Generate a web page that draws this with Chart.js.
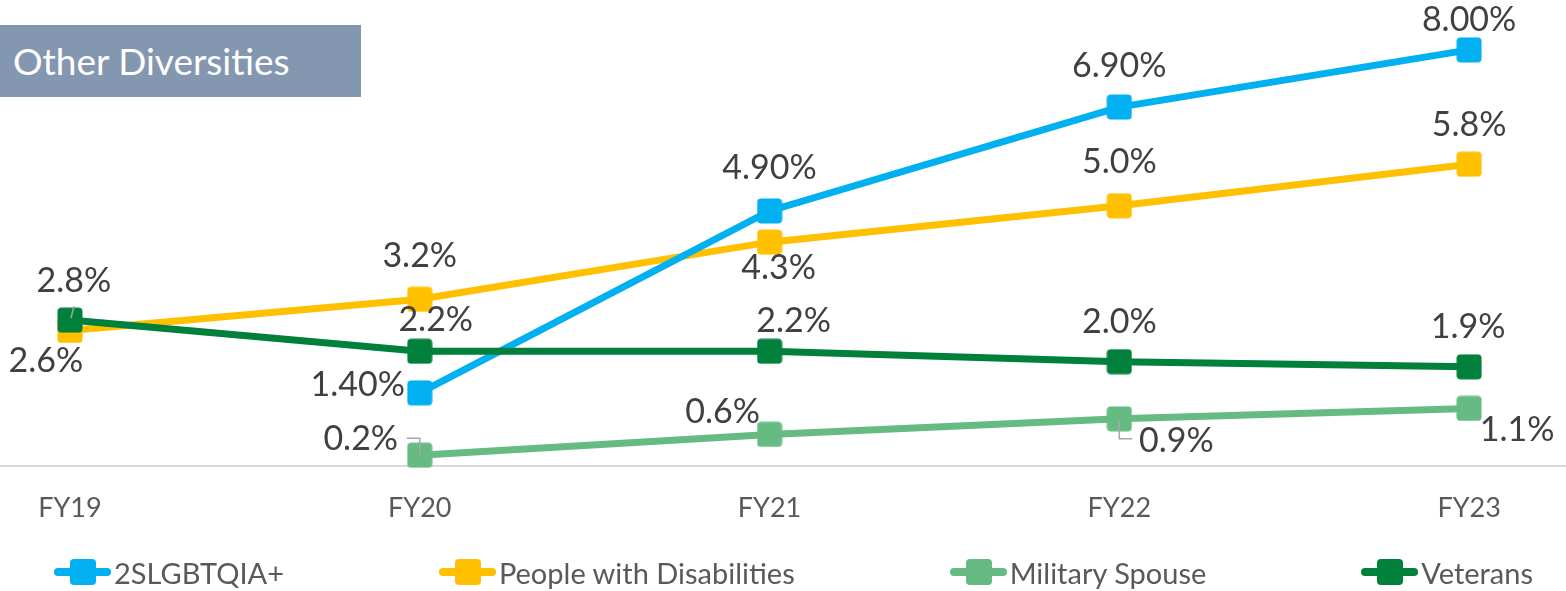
<!DOCTYPE html>
<html lang="en">
<head>
<meta charset="UTF-8">
<title>Other Diversities</title>
<script src="https://cdn.jsdelivr.net/npm/chart.js@4.4.0/dist/chart.umd.min.js"></script>
<style>
  html, body { margin: 0; padding: 0; background: #fff; }
  .wrap { position: relative; width: 1566px; height: 591px; font-family: Lato, sans-serif; overflow: hidden; }
  #chart { position: absolute; left: 0; top: 0; }
  .title { position: absolute; left: 0; top: 25px; width: 361px; height: 72px; background: #8497B0; color: #fff;
           font-size: 37px; line-height: 72px; padding-left: 13px; box-sizing: border-box; }
  .legend { position: absolute; left: 54px; right: 33px; top: 555px; height: 34px; display: flex;
            justify-content: space-between; align-items: center; }
  .item { display: flex; align-items: center; font-size: 29px; color: #595959; }
  .sym { position: relative; width: 57px; height: 26px; margin-right: 3px; }
  .sym::before { content: ''; position: absolute; left: 0; right: 0; top: 9px; height: 8px; border-radius: 4px; background: var(--c); }
  .sym::after { content: ''; position: absolute; left: 16px; top: 0; width: 26px; height: 26px; border-radius: 4px; background: var(--c); }
</style>
</head>
<body>
<div class="wrap">
  <canvas id="chart" width="1566" height="591"></canvas>
  <div class="title">Other Diversities</div>
  <div class="legend" id="legend"></div>
</div>

<script>
const years = ['FY19', 'FY20', 'FY21', 'FY22', 'FY23'];
const lgbtq = [null, 1.4, 4.9, 6.9, 8.0];
const disabilities = [2.6, 3.2, 4.3, 5.0, 5.8];
const militarySpouse = [null, 0.2, 0.6, 0.9, 1.1];
const veterans = [2.8, 2.2, 2.2, 2.0, 1.9];

const seriesNames = ['2SLGBTQIA+', 'People with Disabilities', 'Military Spouse', 'Veterans'];
const seriesValues = [lgbtq, disabilities, militarySpouse, veterans];
const seriesColors = ['#00B0F0', '#FFC000', '#66BB83', '#00803A'];
const seriesDecimals = [2, 1, 1, 1];
const drawOrder = [1, 2, 3, 0];

// where each value label sits, relative to its point (px)
const labelOffsets = [
    [null, [-62, -8], [0, -43], [0, -41], [0, -30]],
    [[-24, 31], [0, -43], [9, 26], [0, -44], [0, -39]],
    [null, [-59, -16], [-47, -22], [57, 22], [48, 22]],
    [[4, -39], [16, -31], [24, -30], [0, -40], [-1, -40]]
];
// small leader lines Excel drew for moved labels
const leaders = [
    [null, null, null, null, null],
    [null, null, null, null, null],
    [null, [[0, -1], [0, -17], [-13, -17]], null, [[0, 2], [0, 20], [13, 20]], null],
    [[[1, -2], [4, -14]], null, null, null, null]
];

function squareMarker(color) {
    const c = document.createElement('canvas');
    c.width = c.height = 26;
    const g = c.getContext('2d');
    g.fillStyle = color;
    g.beginPath();
    g.roundRect(0.5, 0.5, 25, 25, 4);
    g.fill();
    return c;
}

const valueLabels = {
    id: 'valueLabels',
    afterDatasetsDraw(chart) {
        const ctx = chart.ctx;
        ctx.save();
        ctx.font = '34px Lato';
        ctx.textAlign = 'center';
        ctx.textBaseline = 'middle';
        chart.data.datasets.forEach((ds, i) => {
            const meta = chart.getDatasetMeta(i);
            meta.data.forEach((pt, j) => {
                const v = seriesValues[i][j];
                if (v == null) return;
                const off = labelOffsets[i][j];
                const lead = leaders[i][j];
                if (lead) {
                    ctx.strokeStyle = '#A6A6A6';
                    ctx.lineWidth = 1.5;
                    ctx.beginPath();
                    lead.forEach(([dx, dy], k) => k ? ctx.lineTo(pt.x + dx, pt.y + dy) : ctx.moveTo(pt.x + dx, pt.y + dy));
                    ctx.stroke();
                }
                ctx.fillStyle = '#404040';
                ctx.fillText(v.toFixed(seriesDecimals[i]) + '%', pt.x + off[0], pt.y + off[1]);
            });
        });
        ctx.restore();
    }
};

const datasets = seriesNames.map((name, i) => ({
    label: name,
    data: seriesValues[i].map((v, j) => ({ x: j, y: v })),
    borderColor: seriesColors[i],
    backgroundColor: seriesColors[i],
    borderWidth: 7,
    pointStyle: squareMarker(seriesColors[i]),
    pointRadius: 13,
    order: drawOrder[i],
    tension: 0,
    clip: false
}));

new Chart(document.getElementById('chart'), {
    type: 'line',
    data: { datasets },
    options: {
        responsive: false,
        animation: false,
        layout: { autoPadding: false, padding: { left: 0, right: 0, top: 0, bottom: 41 } },
        plugins: { legend: { display: false }, tooltip: { enabled: false } },
        scales: {
            x: {
                type: 'linear',
                min: -0.2,
                max: 4.277,
                afterBuildTicks: axis => { axis.ticks = years.map((_, i) => ({ value: i })); },
                ticks: {
                    callback: v => years[v],
                    font: { family: 'Lato', size: 27 },
                    color: '#595959',
                    padding: 26,
                    maxRotation: 0,
                    autoSkip: false
                },
                grid: { display: false, drawTicks: false },
                border: { display: true, color: '#D9D9D9', width: 2 }
            },
            y: { display: false, min: 0, max: 8.96 }
        }
    },
    plugins: [valueLabels]
});

const legend = document.getElementById('legend');
seriesNames.forEach((name, i) => {
    const item = document.createElement('div');
    item.className = 'item';
    item.innerHTML = `<span class="sym" style="--c:${seriesColors[i]}"></span><span>${name}</span>`;
    legend.appendChild(item);
});
</script>
</body>
</html>
